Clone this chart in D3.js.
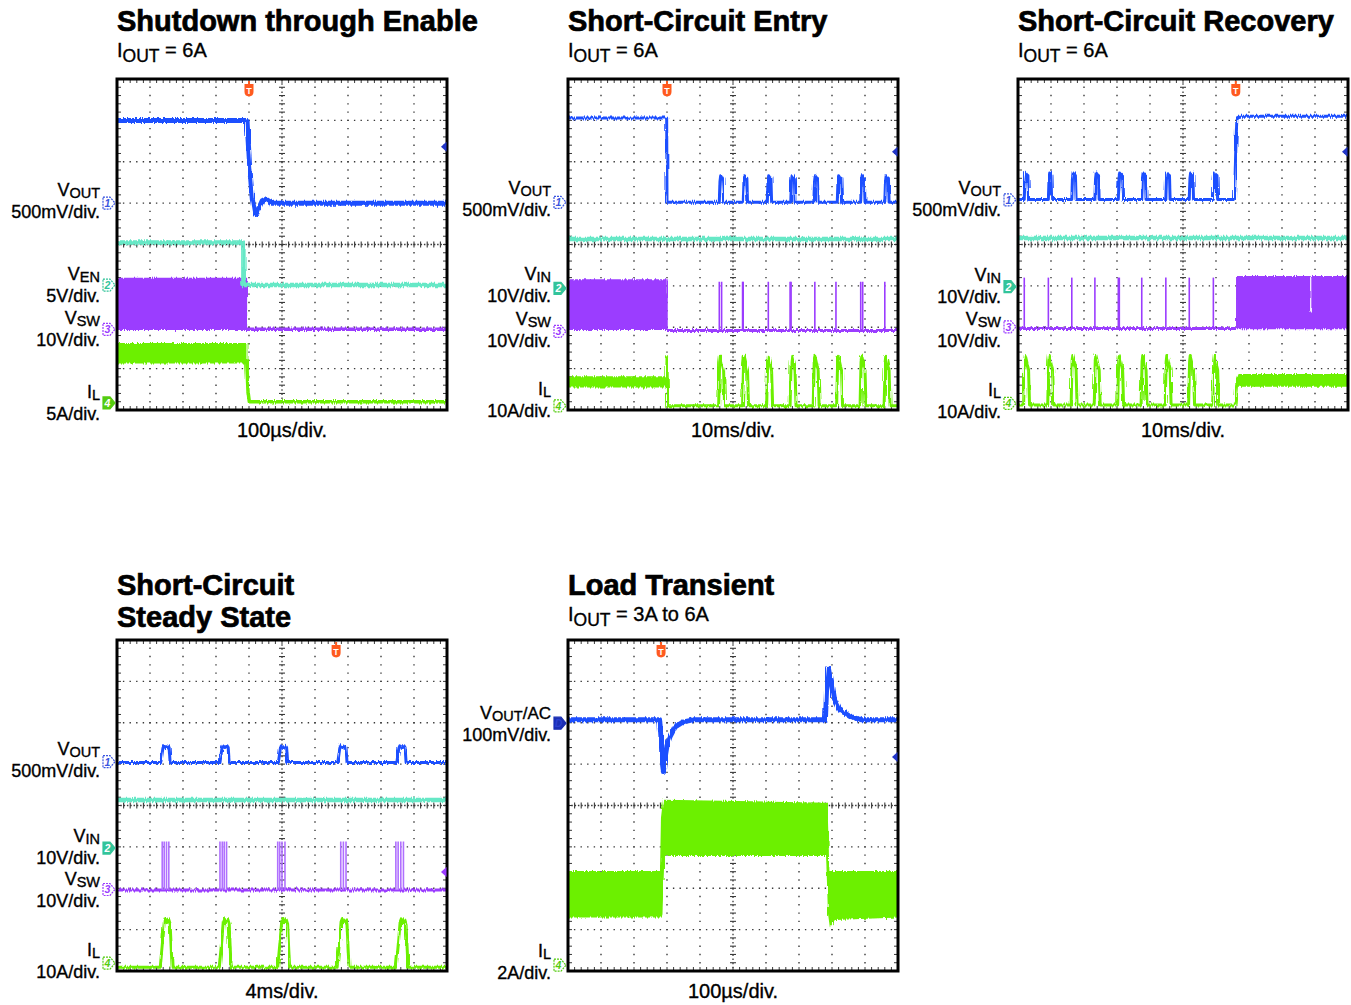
<!DOCTYPE html>
<html><head><meta charset="utf-8">
<script src="https://cdn.jsdelivr.net/npm/d3@7"></script>
<style>
body{margin:0;background:#fff}
text{font-family:"Liberation Sans",Arial,Helvetica,sans-serif;fill:#000;stroke:#000;stroke-width:0.35px}
text.title{stroke-width:0.7px}
</style>
</head><body>
<svg id="c" width="1351" height="1005"></svg>
<script>
// ---------------- DATA (time and amplitude in scope divisions) ----------------
const titles = [["Shutdown through Enable"], ["Short-Circuit Entry"], ["Short-Circuit Recovery"], ["Short-Circuit", "Steady State"], ["Load Transient"]];
const subtitles = ["6A", "6A", "6A", null, "3A to 6A"];
const timebases = ["100µs/div.", "10ms/div.", "10ms/div.", "4ms/div.", "100µs/div."];
const triggerT = [4.0, 3.0, 6.6, 6.64, 2.82];
const levelMarkY = [2.36, 2.24, 2.24, -1.61, 1.17];

// channel labels: [marker id, name, subscript, suffix, scale, marker level, filled]
const chan1 = [["1","V","OUT","","500mV/div.",1.0,false],["2","V","EN","","5V/div.",-0.98,false],["3","V","SW","","10V/div.",-2.05,false],["4","I","L","","5A/div.",-3.83,true]];
const chan2 = [["1","V","OUT","","500mV/div.",1.02,false],["2","V","IN","","10V/div.",-1.06,true],["3","V","SW","","10V/div.",-2.1,false],["4","I","L","","10A/div.",-3.9,false]];
const chan3 = [["1","V","OUT","","500mV/div.",1.08,false],["2","V","IN","","10V/div.",-1.02,true],["3","V","SW","","10V/div.",-1.99,false],["4","I","L","","10A/div.",-3.84,false]];
const chan4 = [["1","V","OUT","","500mV/div.",1.06,false],["2","V","IN","","10V/div.",-1.03,true],["3","V","SW","","10V/div.",-2.03,false],["4","I","L","","10A/div.",-3.81,false]];
const chan5 = [["D","V","OUT","/AC","100mV/div.",1.99,true],["4","I","L","","2A/div.",-3.86,false]];

// Panel 1 : Shutdown through Enable
const p1Vout = [[0,3.0],[3.94,3.0],[3.96,2.7],[4.02,1.9],[4.1,1.1],[4.17,0.78],[4.22,0.72],[4.3,0.88],[4.4,1.06],[4.5,1.1],[4.7,1.0],[10,1.0]];
const p1Ven = [[0,0.05],[3.83,0.05],[3.83,-0.98],[10,-0.98]];
const p1VswBand = [[0,-2.05,-0.82],[3.92,-2.05,-0.82]];
const p1Vsw = [[3.92,-2.05],[10,-2.05]];
const p1IlBand = [[0,-2.86,-2.4],[3.93,-2.86,-2.4]];
const p1Il = [[3.93,-2.8],[3.97,-3.55],[4.01,-3.8],[10,-3.8]];

// Panel 2 : Short-Circuit Entry
const p2Pulses = [4.585, 5.31, 6.04, 6.75, 7.45, 8.16, 8.87, 9.6];
const p2VoutLead = [[0,3.06],[2.99,3.06],[3.0,1.02]];
const p2Vin = [[0,0.13],[10,0.13]];
const p2VswBand = [[0,-2.05,-0.86],[3.0,-2.05,-0.86]];
const p2Vsw = [[3.0,-2.08],[10,-2.08]];
const p2VswSpikes = [4.585, 4.655, 5.29, 5.31, 6.07, 6.73, 6.76, 7.48, 8.12, 8.87, 8.93, 9.6];
const p2IlBand = [[0,-3.44,-3.2],[2.99,-3.44,-3.2]];
const p2IlLead = [[2.99,-3.3],[3.0,-2.74],[3.02,-3.9]];

// Panel 3 : Short-Circuit Recovery
const p3Pulses = [0.19, 0.92, 1.63, 2.33, 3.04, 3.75, 4.48, 5.19, 5.92];
const p3VoutTail = [[6.56,1.09],[6.6,2.3],[6.63,3.02],[6.7,3.1],[10,3.1]];
const p3Vin = [[0,0.16],[10,0.16]];
const p3Vsw = [[0,-2.03],[6.63,-2.03]];
const p3VswSpikes = [0.19, 0.92, 1.63, 2.33, 3.04, 3.07, 3.75, 4.48, 5.19, 5.92];
const p3VswBand = [[6.63,-2.03,-0.78],[10,-2.03,-0.78]];
const p3VswNotch = [[8.87,-0.78],[8.87,-1.62]];
const p3IlTail = [[6.58,-3.88],[6.63,-3.35]];
const p3IlBand = [[6.63,-3.42,-3.3],[6.7,-3.42,-3.15],[10,-3.42,-3.15]];

// Panel 4 : Short-Circuit Steady State
const p4Pulses = [1.33, 3.12, 4.89, 6.69, 8.48];
const p4Vin = [[0,0.13],[10,0.13]];
const p4VswSpikes = [1.37,1.43,1.5,1.57, 3.12,3.19,3.25,3.32, 4.87,4.93,5.0,5.09, 6.78,6.86,6.94, 8.45,8.52,8.6,8.68];

// Panel 5 : Load Transient
const p5Vout = [[0,2.07],[2.78,2.07],[2.82,1.6],[2.86,1.0],[2.89,0.82],[2.93,1.1],[3.0,1.45],[3.09,1.66],[3.25,1.9],[3.49,2.02],[3.8,2.07],[7.8,2.07],[7.84,2.9],[7.89,3.32],[7.95,3.05],[8.04,2.63],[8.24,2.31],[8.55,2.15],[8.9,2.07],[10,2.07]];
const p5IlBand = [[0,-2.69,-1.6],[2.81,-2.69,-1.6],[2.84,-2.6,-0.3],[2.9,-1.2,0.12],[7.84,-1.2,0.05],[7.86,-1.6,-0.5],[7.9,-2.6,-1.6],[7.95,-2.9,-1.6],[8.1,-2.75,-1.6],[10,-2.69,-1.6]];

// pulse shapes [dt, dy]
const voutPulseA = [[0,0],[0.02,0.5],[0.04,0.64],[0.07,0.6],[0.11,0.58],[0.13,0]];
const ilPulseA = [[-0.02,0],[0.01,1.05],[0.03,1.2],[0.06,1.1],[0.1,0.95],[0.13,0.85],[0.16,0]];
const voutPulseB = [[0,0],[0.06,0.34],[0.09,0.4],[0.15,0.36],[0.22,0.4],[0.25,0.36],[0.28,0]];
const ilPulseB = [[-0.02,0],[0.06,0.7],[0.1,1.1],[0.14,1.18],[0.18,1.08],[0.24,1.15],[0.28,1.05],[0.31,0.5],[0.34,0]];

// ---------------- LAYOUT / STYLE ----------------
const W = 330, H = 331;
const panelX = [117, 568, 1018, 117, 568];
const panelY = [79, 79, 79, 640, 640];
const labelYs = [[197,281,325,399],[195,281,326,396],[195,282,326,397],[756,843,886,957],[720,958]];
const COL = {vout:"#1f50ff", teal:"#66e8c6", purple:"#9b3cff", green:"#6cf000", trig:"#ff5a1f",
             m1:"#3a55e0", m2:"#33c49a", m3:"#9b3cff", m4:"#55cc10", mD:"#1b2fb4"};
const chanColor = {"1":COL.m1, "2":COL.m2, "3":COL.m3, "4":COL.m4, "D":COL.mD};
const levelMarkColor = ["#2236c8","#2236c8","#2236c8","#9b3cff","#2236c8"];

function withPulses(lead, level, times, shape, start, end) {
  const pts = lead.slice();
  if (start !== null) pts.push([start, level]);
  times.forEach(t => shape.forEach(([dt, dy]) => pts.push([t + dt, level + dy])));
  pts.push([end, level]);
  return pts;
}

const panels = [
  { chans: chan1,
    bands: [{c:COL.purple, d:p1VswBand},{c:COL.green, d:p1IlBand}],
    lines: [{c:COL.purple,w:3.5,d:p1Vsw},{c:COL.green,w:3.5,d:p1Il},{c:COL.teal,w:4.5,d:p1Ven},{c:COL.vout,w:5,d:p1Vout}],
    spikes: [] },
  { chans: chan2,
    bands: [{c:COL.purple, d:p2VswBand},{c:COL.green, d:p2IlBand}],
    lines: [{c:COL.purple,w:3,d:p2Vsw},{c:COL.teal,w:4.5,d:p2Vin},
            {c:COL.green,w:3,d:withPulses(p2IlLead,-3.9,p2Pulses,ilPulseA,null,10)},
            {c:COL.vout,w:3,d:withPulses(p2VoutLead,1.02,p2Pulses,voutPulseA,null,10)}],
    spikes: [{c:COL.purple, base:-2.08, top:-0.9, ts:p2VswSpikes}] },
  { chans: chan3,
    bands: [{c:COL.purple, d:p3VswBand},{c:COL.green, d:p3IlBand}],
    lines: [{c:COL.purple,w:3,d:p3Vsw},{c:"#ffffff",w:1.2,d:p3VswNotch},{c:COL.teal,w:4.5,d:p3Vin},
            {c:COL.green,w:3,d:withPulses([],-3.88,p3Pulses,ilPulseA,0,6.58).concat(p3IlTail)},
            {c:COL.vout,w:3,d:withPulses([],1.09,p3Pulses,voutPulseA,0,6.56).concat(p3VoutTail)}],
    spikes: [{c:COL.purple, base:-2.03, top:-0.8, ts:p3VswSpikes}] },
  { chans: chan4,
    bands: [],
    lines: [{c:COL.purple,w:3,d:[[0,-2.04],[10,-2.04]]},{c:COL.teal,w:4.5,d:p4Vin},
            {c:COL.green,w:3,d:withPulses([],-3.91,p4Pulses,ilPulseB,0,10)},
            {c:COL.vout,w:3,d:withPulses([],1.04,p4Pulses,voutPulseB,0,10)}],
    spikes: [{c:"#b070ff", base:-2.04, top:-0.87, ts:p4VswSpikes}] },
  { chans: chan5,
    bands: [{c:COL.green, d:p5IlBand}],
    lines: [{c:COL.vout,w:5,d:p5Vout}],
    spikes: [] }
];

// ---------------- DRAW ----------------
const svg = d3.select("#c");
const defs = svg.append("defs");

panels.forEach((p, i) => {
  const x0 = panelX[i], y0 = panelY[i];
  const x = d3.scaleLinear().domain([0, 10]).range([x0, x0 + W]);
  const y = d3.scaleLinear().domain([-4, 4]).range([y0 + H, y0]);
  const g = svg.append("g");

  // titles
  const tl = titles[i];
  const titleBase = i < 3 ? 31 : 595;
  const tt = g.append("text").attr("class", "title").attr("x", x0).attr("y", titleBase)
    .attr("font-size", 29).attr("font-weight", "bold");
  tl.forEach((t, k) => {
    tt.append("tspan").attr("x", x0).attr("dy", k === 0 ? 0 : 32).text(t);
  });
  if (subtitles[i]) {
    const st = g.append("text").attr("x", x0).attr("y", titleBase + 26).attr("font-size", 20);
    st.append("tspan").text("I");
    st.append("tspan").attr("font-size", 17.5).attr("dy", 5).text("OUT");
    st.append("tspan").attr("font-size", 20).attr("dy", -5).text(" = " + subtitles[i]);
  }

  // clip + noise filter
  defs.append("clipPath").attr("id", "clip" + i).append("rect")
    .attr("x", x0).attr("y", y0).attr("width", W).attr("height", H);
  const f = defs.append("filter").attr("id", "noise" + i).attr("filterUnits", "userSpaceOnUse")
    .attr("x", x0 - 5).attr("y", y0 - 5).attr("width", W + 10).attr("height", H + 10);
  f.append("feTurbulence").attr("type", "fractalNoise").attr("baseFrequency", "0.9 0.04")
    .attr("numOctaves", 2).attr("seed", 7 + i).attr("result", "t");
  f.append("feDisplacementMap").attr("in", "SourceGraphic").attr("in2", "t").attr("scale", 4.5)
    .attr("xChannelSelector", "B").attr("yChannelSelector", "G");

  // grid
  const gg = g.append("g").attr("stroke", "#3a3a3a");
  const stepY = (y(0) - y(0.2)), stepX = x(0.2) - x(0);
  d3.range(1, 10).filter(k => k !== 5).forEach(k => {
    gg.append("line").attr("x1", x(k)).attr("x2", x(k)).attr("y1", y0).attr("y2", y0 + H)
      .attr("stroke-width", 1.4).attr("stroke-dasharray", `1.4 ${stepY - 1.4}`).attr("stroke-dashoffset", 0.7);
  });
  d3.range(-3, 4).filter(k => k !== 0).forEach(k => {
    gg.append("line").attr("y1", y(k)).attr("y2", y(k)).attr("x1", x0).attr("x2", x0 + W)
      .attr("stroke-width", 1.4).attr("stroke-dasharray", `1.4 ${stepX - 1.4}`).attr("stroke-dashoffset", 0.7);
  });
  gg.append("line").attr("x1", x(5)).attr("x2", x(5)).attr("y1", y0).attr("y2", y0 + H)
    .attr("stroke-width", 1.3).attr("stroke-dasharray", `1.5 ${stepY / 2 - 1.5}`);
  gg.append("line").attr("y1", y(0)).attr("y2", y(0)).attr("x1", x0).attr("x2", x0 + W)
    .attr("stroke-width", 1.3).attr("stroke-dasharray", `1.5 ${stepX / 2 - 1.5}`);
  d3.range(0, 40).forEach(k => {
    const yy = y(-4 + k * 0.2);
    gg.append("line").attr("x1", x(5) - 3).attr("x2", x(5) + 3).attr("y1", yy).attr("y2", yy).attr("stroke-width", 1.1);
    gg.append("line").attr("x1", x0).attr("x2", x0 + 4).attr("y1", yy).attr("y2", yy).attr("stroke-width", 1);
    gg.append("line").attr("x1", x0 + W - 4).attr("x2", x0 + W).attr("y1", yy).attr("y2", yy).attr("stroke-width", 1);
  });
  d3.range(0, 50).forEach(k => {
    const xx = x(k * 0.2);
    gg.append("line").attr("y1", y(0) - 3).attr("y2", y(0) + 3).attr("x1", xx).attr("x2", xx).attr("stroke-width", 1.1);
    gg.append("line").attr("y1", y0).attr("y2", y0 + 4).attr("x1", xx).attr("x2", xx).attr("stroke-width", 1);
    gg.append("line").attr("y1", y0 + H - 4).attr("y2", y0 + H).attr("x1", xx).attr("x2", xx).attr("stroke-width", 1);
  });

  // traces
  const tg = g.append("g").attr("clip-path", `url(#clip${i})`);
  const ng = tg.append("g").attr("filter", `url(#noise${i})`);
  const area = d3.area().x(d => x(d[0])).y0(d => y(d[1])).y1(d => y(d[2]));
  const line = d3.line().x(d => x(d[0])).y(d => y(d[1]));
  p.bands.forEach(b => {
    ng.append("path").attr("d", area(b.d)).attr("fill", b.c).attr("stroke", b.c).attr("stroke-width", 1.5);
  });
  p.spikes.forEach(s => {
    s.ts.forEach(t => {
      tg.append("line").attr("x1", x(t)).attr("x2", x(t)).attr("y1", y(s.base)).attr("y2", y(s.top))
        .attr("stroke", s.c).attr("stroke-width", 1.6);
    });
  });
  p.lines.forEach(l => {
    ng.append("path").attr("d", line(l.d)).attr("fill", "none").attr("stroke", l.c)
      .attr("stroke-width", l.w).attr("stroke-linejoin", "round");
  });

  // box
  g.append("rect").attr("x", x0).attr("y", y0).attr("width", W).attr("height", H)
    .attr("fill", "none").attr("stroke", "#000").attr("stroke-width", 3);

  // trigger marker
  const tx = x(triggerT[i]);
  g.append("line").attr("x1", tx).attr("x2", tx).attr("y1", y0 + 2).attr("y2", y0 + 6).attr("stroke", COL.trig).attr("stroke-width", 2);
  g.append("path").attr("d", `M${tx - 4.5},${y0 + 5}H${tx + 4.5}V${y0 + 13}Q${tx + 4.5},${y0 + 17} ${tx},${y0 + 17.5}Q${tx - 4.5},${y0 + 17} ${tx - 4.5},${y0 + 13}Z`)
    .attr("fill", COL.trig);
  g.append("text").attr("x", tx).attr("y", y0 + 14.5).attr("text-anchor", "middle")
    .attr("font-size", 9).attr("font-weight", "bold").style("fill", "#fff").style("stroke", "none").text("T");

  // level marker (right edge)
  const ly = y(levelMarkY[i]);
  g.append("path").attr("d", `M${x0 + W - 0.5},${ly - 5}L${x0 + W - 6},${ly}L${x0 + W - 0.5},${ly + 5}Z`)
    .attr("fill", levelMarkColor[i]);

  // channel markers
  p.chans.forEach(([id, nm, sub, suf, scale, lvl, filled]) => {
    const my = y(lvl), col = chanColor[id];
    const mx = x0 - 2;
    g.append("path").attr("d", `M${mx - 12},${my - 6}H${mx - 5}L${mx},${my}L${mx - 5},${my + 6}H${mx - 12}Z`)
      .attr("fill", filled ? col : "#fff").attr("stroke", col).attr("stroke-width", 1.2)
      .attr("stroke-dasharray", filled ? null : "2 1");
    g.append("text").attr("x", mx - 7.5).attr("y", my + 4).attr("text-anchor", "middle")
      .attr("font-size", 10.5).attr("font-style", "italic").attr("font-weight", "bold").style("stroke", "none")
      .style("fill", filled ? (id === "D" ? "#2b3fd0" : "#fff") : col).text(id);
  });

  // label text blocks
  const labelRight = x0 - 17;
  const labY = labelYs[i];
  p.chans.forEach(([id, nm, sub, suf, scale], k) => {
    const b = labY[k] - 1;
    const t1 = g.append("text").attr("x", labelRight).attr("y", b).attr("text-anchor", "end").attr("font-size", 18);
    t1.append("tspan").text(nm);
    t1.append("tspan").attr("font-size", 14.5).attr("dy", 2.2).text(sub);
    if (suf) t1.append("tspan").attr("dy", -2.2).attr("font-size", 17).text(suf);
    g.append("text").attr("x", labelRight).attr("y", b + 21.8).attr("text-anchor", "end").attr("font-size", 18).text(scale);
  });

  // time base
  g.append("text").attr("x", x0 + W / 2).attr("y", y0 + H + 27).attr("text-anchor", "middle")
    .attr("font-size", 20).text(timebases[i]);
});
</script>
</body></html>
